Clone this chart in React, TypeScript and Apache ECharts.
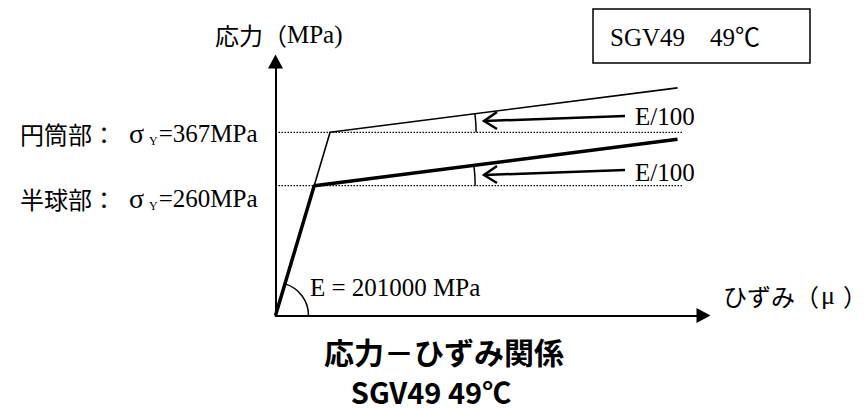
import React, { useEffect, useRef } from "react";
import * as echarts from "echarts";

// Schematic stress–strain relation (strain in μ, stress in MPa)
const upperCurve: [number, number][] = [[0, 0], [1826, 367], [13445, 456]]; // 円筒部
const lowerCurve: [number, number][] = [[0, 0], [1294, 260], [13445, 353]]; // 半球部
const yieldLevels = [367, 260];
const dottedRange = [100, 13629];
const axisMax = { x: 14314, y: 508.8 };

const yLabel = ["応力（", "MPa)"];
const xLabel = ["ひずみ（", "μ", "）"];
const upperLabel = ["円筒部：", "σ", "Y", "=367MPa"];
const lowerLabel = ["半球部：", "σ", "Y", "=260MPa"];
const slopeLabel = "E/100";
const modulusLabel = "E = 201000 MPa";
const boxLabel = "SGV49　49℃";
const titleLines = ["応力－ひずみ関係", "SGV49 49℃"];

const SERIF = "'Liberation Serif', 'Noto Sans CJK JP', serif";
const CJK = "'Noto Sans CJK JP', sans-serif";

export default function App() {
  const ref = useRef<HTMLDivElement>(null);
  useEffect(() => {
    if (!ref.current) return;
    const chart = echarts.init(ref.current, undefined, { renderer: "svg" });
    const axisCommon = {
      type: "value",
      min: 0,
      axisLine: {
        show: true,
        symbol: ["none", "triangle"],
        symbolSize: [15, 14],
        lineStyle: { color: "#000", width: 2 },
      },
      axisTick: { show: false },
      axisLabel: { show: false },
      splitLine: { show: false },
    };
    chart.setOption({
      animation: false,
      grid: { left: 275.5, right: 162.5, top: 61.5, bottom: 95.5 },
      xAxis: { ...axisCommon, max: axisMax.x },
      yAxis: { ...axisCommon, max: axisMax.y },
      series: [
        ...yieldLevels.map((v) => ({
          type: "line",
          data: [[dottedRange[0], v], [dottedRange[1], v]],
          symbol: "none",
          z: 1,
          lineStyle: { color: "#000", width: 1.2, type: [1.5, 1.5] },
        })),
        {
          type: "line",
          data: upperCurve,
          symbol: "none",
          z: 3,
          lineStyle: { color: "#000", width: 1.6 },
        },
        {
          type: "line",
          data: lowerCurve,
          symbol: "none",
          z: 3,
          lineStyle: { color: "#000", width: 3.5 },
        },
      ],
    });

    const px = (p: [number, number]) => chart.convertToPixel({ gridIndex: 0 }, p) as number[];
    const o = px([0, 0]);
    const uy = px(upperCurve[1]);
    const ue = px(upperCurve[2]);
    const ly = px(lowerCurve[1]);
    const le = px(lowerCurve[2]);
    const aU = Math.atan2(ue[1] - uy[1], ue[0] - uy[0]);
    const aL = Math.atan2(le[1] - ly[1], le[0] - ly[0]);
    const aO = Math.atan2(ly[1] - o[1], ly[0] - o[0]);

    const rich = {
      c: { fontSize: 24, fontFamily: CJK, fill: "#000" },
      l: { fontSize: 25, fontFamily: SERIF, fill: "#000" },
      g: { fontSize: 28, fontFamily: SERIF, fill: "#000", padding: [0, 0, 0, 13] },
      m: { fontSize: 26, fontFamily: SERIF, fill: "#000", padding: [0, 8, 0, 2] },
      s: { fontSize: 12, fontFamily: SERIF, fill: "#000", verticalAlign: "bottom", padding: [0, 1, 0, 5] },
    };
    const rt = (text: string, x: number, y: number, align = "left") => ({
      type: "text",
      x,
      y,
      style: { text, align, verticalAlign: "middle", rich },
    });
    const txt = (text: string, x: number, y: number, extra: any = {}) => ({
      type: "text",
      x,
      y,
      style: {
        text,
        fill: "#000",
        font: `25px ${SERIF}`,
        align: "left",
        verticalAlign: "middle",
        ...extra,
      },
    });
    const arrow = (y0: number) => [
      { type: "line", shape: { x1: 625, y1: y0, x2: 484, y2: y0 + 5 }, style: { stroke: "#000", lineWidth: 2.5 } },
      {
        type: "polyline",
        shape: { points: [[497, y0 - 4], [484, y0 + 5], [497, y0 + 13]] },
        style: { stroke: "#000", lineWidth: 2.5, fill: null },
      },
    ];
    const arcStyle = { stroke: "#000", lineWidth: 1.5, fill: null };

    chart.setOption({
      graphic: [
        { type: "arc", shape: { cx: uy[0], cy: uy[1], r: 146, startAngle: aU, endAngle: 0, clockwise: true }, style: arcStyle },
        { type: "arc", shape: { cx: ly[0], cy: ly[1], r: 161, startAngle: aL, endAngle: 0, clockwise: true }, style: arcStyle },
        { type: "arc", shape: { cx: o[0], cy: o[1], r: 33, startAngle: aO, endAngle: 0, clockwise: true }, style: arcStyle },
        ...arrow(116),
        ...arrow(170),
        rt(`{c|${yLabel[0]}}{l|${yLabel[1]}}`, 215, 34),
        rt(`{c|${upperLabel[0]}}{g|${upperLabel[1]}}{s|${upperLabel[2]}}{l|${upperLabel[3]}}`, 20, 133),
        rt(`{c|${lowerLabel[0]}}{g|${lowerLabel[1]}}{s|${lowerLabel[2]}}{l|${lowerLabel[3]}}`, 20, 198),
        txt(slopeLabel, 635, 116),
        txt(slopeLabel, 635, 172),
        txt(modulusLabel, 310, 287),
        rt(`{c|${xLabel[0]}}{m|${xLabel[1]}}{c|${xLabel[2]}}`, 723, 295),
        { type: "rect", shape: { x: 593, y: 9, width: 217, height: 54 }, style: { stroke: "#000", lineWidth: 1.5, fill: null } },
        txt(boxLabel, 610, 37),
        txt(titleLines[0], 444, 351, { font: `bold 30px ${CJK}`, align: "center" }),
        txt(titleLines[1], 431, 391, { font: `bold 29px ${CJK}`, align: "center" }),
      ],
    });
    return () => chart.dispose();
  }, []);
  return <div ref={ref} style={{ position: "absolute", left: 0, top: 0, width: 866, height: 411 }} />;
}
